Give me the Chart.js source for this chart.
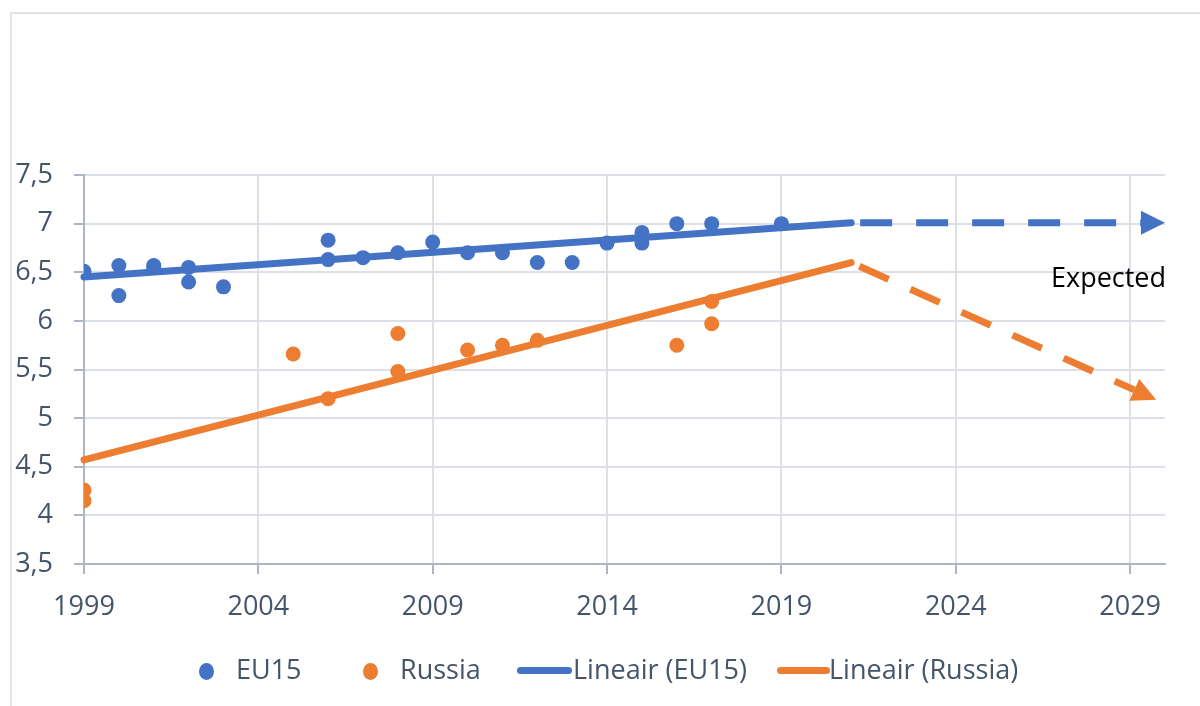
<!DOCTYPE html>
<html><head><meta charset="utf-8">
<script src="https://cdn.jsdelivr.net/npm/chart.js@4.4.0/dist/chart.umd.min.js"></script>
<style>
html,body{margin:0;padding:0;background:#fff;}
#wrap{position:relative;width:1200px;height:706px;overflow:hidden;font-family:'Open Sans',sans-serif;}
#frame{position:absolute;left:10px;top:12px;width:1300px;height:800px;border-left:2px solid #e0e3e8;border-top:2px solid #e0e3e8;}
canvas{position:absolute;left:0;top:0;}
.lg{position:absolute;top:650px;color:#44546a;font-size:27px;white-space:nowrap;}
.dot{position:absolute;width:15px;height:17px;border-radius:50%;}
.ln{position:absolute;height:7px;border-radius:4px;}
</style></head>
<body>
<div id="wrap">
  <div id="frame"></div>
  <canvas id="c" width="1200" height="706"></canvas>
  <div class="dot" style="left:199px;top:663px;background:#4472C4"></div>
  <div class="lg" style="left:236px">EU15</div>
  <div class="dot" style="left:363px;top:663px;background:#ED7D31"></div>
  <div class="lg" style="left:400px">Russia</div>
  <div class="ln" style="left:517px;width:55px;top:667px;background:#4472C4"></div>
  <div class="lg" style="left:573px">Lineair (EU15)</div>
  <div class="ln" style="left:777px;width:53px;top:667px;background:#ED7D31"></div>
  <div class="lg" style="left:829px">Lineair (Russia)</div>
</div>
<script>
// ---- data ----
const eu15Years  = [1999, 2000, 2000, 2001, 2001, 2002, 2002, 2003, 2006, 2006, 2007, 2008, 2009, 2010, 2011, 2012, 2013, 2014, 2015, 2015, 2016, 2017, 2019];
const eu15Values = [6.51, 6.57, 6.26, 6.57, 6.55, 6.55, 6.40, 6.35, 6.83, 6.63, 6.65, 6.70, 6.81, 6.70, 6.70, 6.60, 6.60, 6.80, 6.91, 6.80, 7.00, 7.00, 7.00];
const russiaYears  = [1999, 1999, 2005, 2006, 2008, 2008, 2010, 2011, 2012, 2016, 2017, 2017];
const russiaValues = [4.26, 4.15, 5.66, 5.20, 5.87, 5.48, 5.70, 5.75, 5.80, 5.75, 6.20, 5.97];
const eu15TrendYears  = [1999, 2021];
const eu15TrendValues = [6.45, 7.01];
const russiaTrendYears  = [1999, 2021];
const russiaTrendValues = [4.57, 6.60];
const eu15ExpectedYears  = [2021, 2029.31];
const eu15ExpectedValues = [7.01, 7.01];
const russiaExpectedYears  = [2021, 2029.12];
const russiaExpectedValues = [6.60, 5.29];
const xTickValues = [1999, 2004, 2009, 2014, 2019, 2024, 2029];
const xTickLabels = ['1999', '2004', '2009', '2014', '2019', '2024', '2029'];
const yTickValues = [3.5, 4, 4.5, 5, 5.5, 6, 6.5, 7, 7.5];
const yTickLabels = ['3,5', '4', '4,5', '5', '5,5', '6', '6,5', '7', '7,5'];
const expectedText = 'Expected';

const BLUE = '#4472C4', ORANGE = '#ED7D31';
const GRID = '#dde1e7', AXIS = '#adb6c5', TEXT = '#44546a';
const pts = (xs, ys) => xs.map((x, i) => ({x: x, y: ys[i]}));

const arrowPlugin = {
  id: 'arrows',
  afterDatasetsDraw(chart) {
    const ctx = chart.ctx;
    chart.data.datasets.forEach((ds, i) => {
      if (!ds.arrowHead) return;
      const d = chart.getDatasetMeta(i).data;
      const a = d[d.length - 2], b = d[d.length - 1];
      const dx = b.x - a.x, dy = b.y - a.y, len = Math.hypot(dx, dy);
      const ux = dx / len, uy = dy / len, L = 24, W = 12;
      ctx.save();
      ctx.fillStyle = ds.borderColor;
      ctx.beginPath();
      ctx.moveTo(b.x + ux * L, b.y + uy * L);
      ctx.lineTo(b.x - uy * W, b.y + ux * W);
      ctx.lineTo(b.x + uy * W, b.y - ux * W);
      ctx.closePath();
      ctx.fill();
      ctx.restore();
    });
    ctx.save();
    ctx.font = '27px "Open Sans"';
    ctx.fillStyle = '#000';
    ctx.textAlign = 'left';
    ctx.textBaseline = 'alphabetic';
    ctx.fillText(expectedText, 1051, 287);
    ctx.restore();
  }
};

function draw() {
  const font = {family: 'Open Sans', size: 27};
  new Chart(document.getElementById('c'), {
    type: 'scatter',
    data: {
      datasets: [
        {label: 'EU15', data: pts(eu15Years, eu15Values), backgroundColor: BLUE, borderWidth: 0, pointRadius: 7.5, pointHoverRadius: 7.5},
        {label: 'Russia', data: pts(russiaYears, russiaValues), backgroundColor: ORANGE, borderWidth: 0, pointRadius: 7.5, pointHoverRadius: 7.5},
        {label: 'Lineair (EU15)', data: pts(eu15TrendYears, eu15TrendValues), showLine: true, borderColor: BLUE, borderWidth: 7, borderCapStyle: 'round', pointRadius: 0, clip: false},
        {label: 'Lineair (Russia)', data: pts(russiaTrendYears, russiaTrendValues), showLine: true, borderColor: ORANGE, borderWidth: 7, borderCapStyle: 'round', pointRadius: 0, clip: false},
        {label: 'exp1', data: pts(eu15ExpectedYears, eu15ExpectedValues), showLine: true, borderColor: BLUE, borderWidth: 7, borderDash: [32, 24], borderDashOffset: 47, borderCapStyle: 'butt', pointRadius: 0, clip: false, arrowHead: true},
        {label: 'exp2', data: pts(russiaExpectedYears, russiaExpectedValues), showLine: true, borderColor: ORANGE, borderWidth: 7, borderDash: [32, 24], borderDashOffset: 47, borderCapStyle: 'butt', pointRadius: 0, clip: false, arrowHead: true}
      ]
    },
    options: {
      responsive: false, animation: false, devicePixelRatio: 1,
      layout: {padding: {left: 0, right: 35, top: 175, bottom: 0}},
      plugins: {legend: {display: false}, tooltip: {enabled: false}},
      events: [],
      scales: {
        x: {
          type: 'linear', min: 1999, max: 2030,
          afterBuildTicks: s => { s.ticks = xTickValues.map(v => ({value: v})); },
          afterFit: s => { s.height = 706 - 564; },
          ticks: {callback: v => xTickLabels[xTickValues.indexOf(v)], color: TEXT, font: font, padding: 17, maxRotation: 0, autoSkip: false},
          grid: {color: c => (c.tick && c.tick.value === 1999) ? 'rgba(0,0,0,0)' : GRID, lineWidth: 2, tickLength: 10, tickColor: AXIS, tickWidth: 2},
          border: {color: AXIS, width: 2}
        },
        y: {
          min: 3.5, max: 7.5,
          afterBuildTicks: s => { s.ticks = yTickValues.map(v => ({value: v})); },
          afterFit: s => { s.width = 84; },
          ticks: {callback: v => yTickLabels[yTickValues.indexOf(v)], color: TEXT, font: font, padding: 21, autoSkip: false},
          grid: {color: c => (c.tick && c.tick.value === 3.5) ? 'rgba(0,0,0,0)' : GRID, lineWidth: 2, tickLength: 10, tickColor: AXIS, tickWidth: 2},
          border: {color: AXIS, width: 2}
        }
      }
    },
    plugins: [arrowPlugin]
  });
}
if (document.fonts && document.fonts.load) {
  document.fonts.load('27px "Open Sans"').then(draw, draw);
} else { draw(); }
</script>
</body></html>
